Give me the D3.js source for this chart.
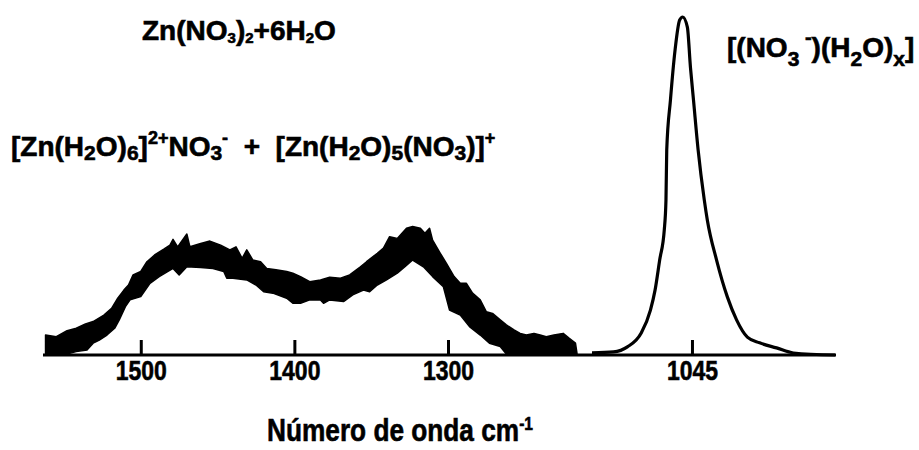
<!DOCTYPE html>
<html>
<head>
<meta charset="utf-8">
<script src="https://cdn.jsdelivr.net/npm/d3@7"></script>
<style>
  body { margin: 0; background: #fff; }
  text { font-family: "Liberation Sans", Arial, sans-serif; font-weight: bold; fill: #000; white-space: pre; }
  .heavy { stroke: #000; stroke-width: 0.6px; }
</style>
</head>
<body>
<div id="chart"></div>
<script>
// left part of the spectrum (noisy band), upper and lower edge
const leftUpperWn = [1562,1555,1548,1542,1536,1531,1524,1519,1515,1511,1508,1505,1500,1496,1491,1485,1481,1479,1476,1470,1468,1461,1455,1448,1442,1438,1434,1431,1427,1422,1418,1412,1405,1401,1396,1390,1383,1377,1370,1364,1357,1353,1346,1342,1338,1333,1327,1323,1318,1315,1312,1310,1305,1301,1296,1292,1288,1284,1279,1275,1271,1266,1262,1257,1253,1249,1244,1240,1236,1231,1225,1221,1217,1216];
const leftUpper = [5.9,5.4,7.2,7.9,9.2,9.9,11.8,13.8,16.8,19.2,20.7,23.7,24.7,27.6,29.6,31.3,32.5,34.2,32.0,35.8,32.0,33.0,33.7,32.5,31.1,32.0,28.6,31.1,28.1,27.6,25.6,25.2,24.7,24.2,23.2,21.7,22.2,23.0,22.7,23.7,26.1,27.6,30.1,31.6,35.0,34.5,37.5,38.0,37.5,36.0,37.5,34.0,30.1,27.1,23.2,21.2,21.2,18.3,16.3,12.8,12.3,10.4,8.9,7.4,6.4,5.9,6.4,5.9,5.4,5.9,6.4,4.9,3.5,0.5];
const leftLowerWn = [1562,1548,1542,1535,1531,1527,1522,1517,1514,1510,1507,1500,1494,1488,1479,1475,1470,1461,1453,1446,1444,1440,1431,1425,1420,1414,1405,1401,1396,1390,1383,1381,1377,1368,1362,1355,1351,1346,1340,1333,1328,1323,1316,1310,1303,1299,1292,1286,1279,1273,1266,1262,1253,1216];
const leftLower = [0,0.3,1.0,1.5,3.5,4.4,5.9,7.9,10.4,14.3,16.3,17.3,21.2,23.2,25.6,23.7,26.1,25.9,25.6,24.7,22.7,22.7,22.2,20.7,18.7,18.3,16.8,15.3,15.3,16.3,16.3,15.3,16.3,15.8,17.8,19.2,18.7,20.7,22.2,24.2,26.1,28.1,26.1,23.2,20.2,13.3,11.8,8.4,5.9,3.5,2.5,0.3,0,0];

// right part: nitrate band around 1045
const rightWn = [1110,1096,1087,1078,1072,1069,1066,1063,1061.9,1061.4,1059,1056,1053,1051,1048,1046,1044,1041,1037,1035,1029,1022,1016,1009,1001,990,979,952];
const rightIntensity = [0.6,0.9,2.4,6.5,13.3,19.2,28.1,37.0,45.9,60.7,75.4,90.2,99.1,100,97.0,85.2,75.4,60.7,45.9,39.9,28.1,17.2,10.4,5.3,3.6,2.1,0.6,0];

const leftTicks = [1500, 1400, 1300];
const rightTicks = [1045];

const label1 = [["Zn(NO"], ["3", "sub"], [")"], ["2", "sub"], ["+6H"], ["2", "sub"], ["O"]];
const label2 = [["[Zn(H"], ["2", "sub"], ["O)"], ["6", "sub"], ["]"], ["2+", "sup"], ["NO"], ["3", "sub"], ["-", "sup"], ["  +  [Zn(H"], ["2", "sub"], ["O)"], ["5", "sub"], ["(NO"], ["3", "sub"], [")]"], ["+", "sup"]];
const label3 = [["[(NO"], ["3", "sub"], [" -", "sup"], [")(H"], ["2", "sub"], ["O)"], ["x", "sub"], ["]"]];
const xTitle = [["Número de onda cm"], ["-1", "sup"]];

const width = 919, height = 450;

const svg = d3.select("#chart").append("svg")
  .attr("width", width)
  .attr("height", height)
  .attr("viewBox", [0, 0, width, height]);

const xLeft = d3.scaleLinear().domain([1563, 1216]).range([44, 577]);
const xRight = d3.scaleLinear().domain([1110, 952]).range([592, 835]);
const y = d3.scaleLinear().domain([0, 100]).range([355, 17]);

// noisy band: upper edge forward, lower edge back
const upperPts = leftUpperWn.map((w, i) => [xLeft(w), y(leftUpper[i])]);
const lowerPts = leftLowerWn.map((w, i) => [xLeft(w), y(leftLower[i])]).reverse();
svg.append("path")
  .attr("d", d3.line()(upperPts.concat(lowerPts)) + "Z")
  .attr("fill", "#000")
  .attr("stroke", "#000")
  .attr("stroke-width", 1.5)
  .attr("stroke-linejoin", "round");

const peakLine = d3.line()
  .x((d, i) => xRight(rightWn[i]))
  .y(d => y(d))
  .curve(d3.curveMonotoneX);

svg.append("path")
  .datum(rightIntensity)
  .attr("d", peakLine)
  .attr("fill", "none")
  .attr("stroke", "#000")
  .attr("stroke-width", 3.2)
  .attr("stroke-linejoin", "round");

// baseline across both segments
svg.append("line")
  .attr("x1", xLeft.range()[0] - 1)
  .attr("x2", xRight.range()[1] + 1)
  .attr("y1", y(0))
  .attr("y2", y(0))
  .attr("stroke", "#000")
  .attr("stroke-width", 3);

function axis(scale, ticks) {
  return g => {
    g.attr("transform", `translate(0,${y(0)})`)
      .call(d3.axisBottom(scale).tickValues(ticks).tickSizeInner(-15).tickSizeOuter(0).tickPadding(5).tickFormat(d3.format("d")))
      .call(g => g.select(".domain").remove());
    g.selectAll(".tick line").attr("stroke", "#000").attr("stroke-width", 3);
    g.selectAll(".tick text")
      .attr("font-family", null)
      .attr("font-size", 28)
      .attr("class", "heavy")
      .attr("transform", "scale(0.82,1)");
  };
}
svg.append("g").call(axis(xLeft, leftTicks));
svg.append("g").call(axis(xRight, rightTicks));

function rich(x, yPos, parts, o) {
  const g = svg.append("g").attr("transform", `translate(${x},${yPos}) scale(${o.sx || 1},1)`);
  const t = g.append("text")
    .attr("class", "heavy")
    .attr("font-size", o.size)
    .attr("text-anchor", o.anchor || "start");
  let cur = 0;
  parts.forEach(([s, k]) => {
    const off = k === "sub" ? o.subDy : k === "sup" ? -o.supDy : 0;
    t.append("tspan")
      .attr("dy", off - cur)
      .attr("font-size", k === "sub" ? o.subSize : k === "sup" ? o.supSize : o.size)
      .text(s);
    cur = off;
  });
  return t;
}

rich(142, 40, label1, { size: 28, subSize: 15, subDy: 3, supSize: 15, supDy: 10 });
rich(11, 156, label2, { size: 28, subSize: 21, subDy: 4, supSize: 18, supDy: 12 });
rich(727, 57, label3, { size: 28, subSize: 21, subDy: 9, supSize: 20, supDy: 13 });
rich(400, 441, xTitle, { size: 32, subSize: 18, subDy: 4, supSize: 19, supDy: 11, anchor: "middle", sx: 0.82 });
</script>
</body>
</html>
